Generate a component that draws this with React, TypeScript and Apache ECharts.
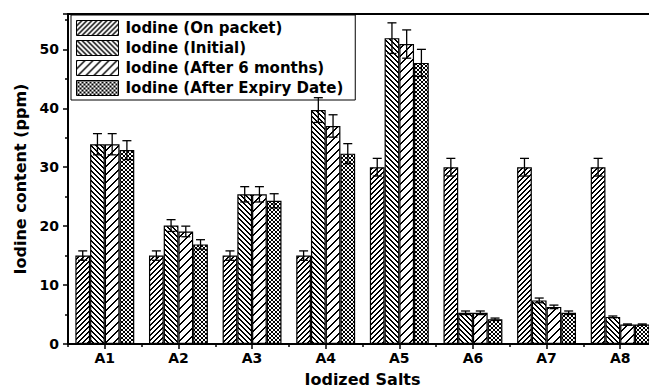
import React, { useEffect, useRef } from 'react';
import * as echarts from 'echarts';

const categories = ['A1', 'A2', 'A3', 'A4', 'A5', 'A6', 'A7', 'A8'];
const seriesNames = [
  'Iodine (On packet)',
  'Iodine (Initial)',
  'Iodine (After 6 months)',
  'Iodine (After Expiry Date)',
];
const onPacket = [15, 15, 15, 15, 30, 30, 30, 30];
const onPacketErr = [0.8, 0.8, 0.8, 0.8, 1.5, 1.5, 1.5, 1.5];
const initial = [33.9, 20.1, 25.4, 39.7, 51.9, 5.3, 7.4, 4.6];
const initialErr = [1.8, 1.0, 1.3, 2.1, 2.6, 0.3, 0.4, 0.15];
const sixMonths = [33.9, 19.1, 25.4, 37.0, 50.9, 5.3, 6.3, 3.3];
const sixMonthsErr = [1.8, 0.9, 1.3, 1.9, 2.4, 0.3, 0.3, 0.1];
const expiry = [32.9, 16.9, 24.3, 32.3, 47.7, 4.2, 5.3, 3.3];
const expiryErr = [1.6, 0.8, 1.2, 1.7, 2.3, 0.2, 0.3, 0.1];
const yMin = 0;
const yMax = 56;
const yInterval = 10;

const FONT = 'DejaVu Sans';

function makeHatch(size: number, kinds: string[], thick: number) {
  const c = document.createElement('canvas');
  c.width = size;
  c.height = size;
  const ctx = c.getContext('2d')!;
  ctx.fillStyle = '#fff';
  ctx.fillRect(0, 0, size, size);
  ctx.fillStyle = '#000';
  for (const k of kinds) {
    for (let x = 0; x < size; x++) {
      for (let t = 0; t < thick; t++) {
        const px = (x + t) % size;
        const py = k === '/' ? size - 1 - x : x;
        ctx.fillRect(px, py, 1, 1);
      }
    }
  }
  return { image: c.toDataURL(), repeat: 'repeat', imageWidth: size, imageHeight: size };
}

export default function App() {
  const ref = useRef<HTMLDivElement>(null);
  useEffect(() => {
    if (!ref.current) return;
    const chart = echarts.init(ref.current, undefined, { renderer: 'svg' });
    const patterns = [
      makeHatch(5, ['/'], 2),
      makeHatch(5, ['\\'], 2),
      makeHatch(8, ['/'], 2),
      makeHatch(4, ['/', '\\'], 1),
    ];
    const values = [onPacket, initial, sixMonths, expiry];
    const errs = [onPacketErr, initialErr, sixMonthsErr, expiryErr];

    const barSeries = values.map((vals, si) => ({
      type: 'bar',
      name: seriesNames[si],
      data: vals,
      xAxisIndex: 0,
      barGap: '0%',
      barCategoryGap: '20%',
      itemStyle: { color: patterns[si], borderColor: '#000', borderWidth: 1.2 },
      emphasis: { disabled: true },
      z: 2,
    }));

    const errSeries = values.map((vals, si) => ({
      type: 'custom',
      name: 'err' + si,
      xAxisIndex: 0,
      z: 5,
      data: vals.map((v, i) => [i, v, errs[si][i]]),
      encode: { x: 0, y: 1 },
      renderItem: (params: any, api: any) => {
        const idx = api.value(0);
        const v = api.value(1);
        const e = api.value(2);
        const c = api.coord([idx, v]);
        const band = api.size([1, 0])[0];
        const bw = band * 0.2;
        const x = c[0] + (si - 1.5) * bw;
        const top = api.coord([idx, v + e])[1];
        const bot = api.coord([idx, v - e])[1];
        const hw = 4.5;
        const st = { stroke: '#000', lineWidth: 1.3 };
        return {
          type: 'group',
          children: [
            { type: 'line', shape: { x1: x, y1: top, x2: x, y2: bot }, style: st },
            { type: 'line', shape: { x1: x - hw, y1: top, x2: x + hw, y2: top }, style: st },
            { type: 'line', shape: { x1: x - hw, y1: bot, x2: x + hw, y2: bot }, style: st },
          ],
        };
      },
    }));

    chart.setOption({
      animation: false,
      backgroundColor: '#fff',
      grid: {
        left: 68,
        right: 8,
        top: 14,
        bottom: 41,
        show: true,
        borderColor: '#000',
        borderWidth: 2,
        backgroundColor: 'transparent',
      },
      legend: {
        data: seriesNames,
        orient: 'vertical',
        left: 71,
        top: 15,
        padding: [5, 12, 4, 5],
        itemGap: 4,
        itemWidth: 42,
        itemHeight: 15,
        icon: 'rect',
        borderColor: '#000',
        borderWidth: 1,
        backgroundColor: '#fff',
        selectedMode: false,
        itemStyle: { borderColor: '#000', borderWidth: 1 },
        textStyle: { fontFamily: FONT, fontWeight: 'bold', fontSize: 15, color: '#000', padding: [0, 0, 0, 2] },
      },
      xAxis: [
        {
          type: 'category',
          data: categories,
          position: 'bottom',
          name: 'Iodized Salts',
          nameLocation: 'middle',
          nameGap: 27,
          nameTextStyle: { fontFamily: FONT, fontWeight: 'bold', fontSize: 16, color: '#000' },
          axisLine: { lineStyle: { color: '#000', width: 2 } },
          axisTick: { show: true, alignWithLabel: false, length: 3, lineStyle: { color: '#000', width: 1.5 } },
          axisLabel: { fontFamily: FONT, fontWeight: 'bold', fontSize: 14, color: '#000', margin: 7 },
          splitLine: { show: false },
        },
        {
          type: 'category',
          data: categories,
          position: 'bottom',
          axisLine: { show: false },
          axisTick: { show: true, alignWithLabel: true, length: 5, lineStyle: { color: '#000', width: 1.5 } },
          axisLabel: { show: false },
          splitLine: { show: false },
        },
      ],
      yAxis: {
        type: 'value',
        min: yMin,
        max: yMax,
        interval: yInterval,
        name: 'Iodine content (ppm)',
        nameLocation: 'middle',
        nameGap: 40,
        nameTextStyle: { fontFamily: FONT, fontWeight: 'bold', fontSize: 16, color: '#000' },
        axisLine: { show: true, lineStyle: { color: '#000', width: 2 } },
        axisTick: { show: true, inside: false, length: 5, lineStyle: { color: '#000', width: 1.5 } },
        minorTick: { show: true, splitNumber: 2, length: 3, lineStyle: { color: '#000', width: 1.5 } },
        axisLabel: { fontFamily: FONT, fontWeight: 'bold', fontSize: 14, color: '#000', margin: 9, showMaxLabel: false },
        splitLine: { show: false },
      },
      series: [...barSeries, ...errSeries],
    } as any);
    return () => chart.dispose();
  }, []);
  return (
    <div style={{ position: 'fixed', left: 0, top: 0, width: 649, height: 392, overflow: 'hidden', background: '#fff' }}>
      <div ref={ref} style={{ width: 665, height: 392 }} />
    </div>
  );
}
